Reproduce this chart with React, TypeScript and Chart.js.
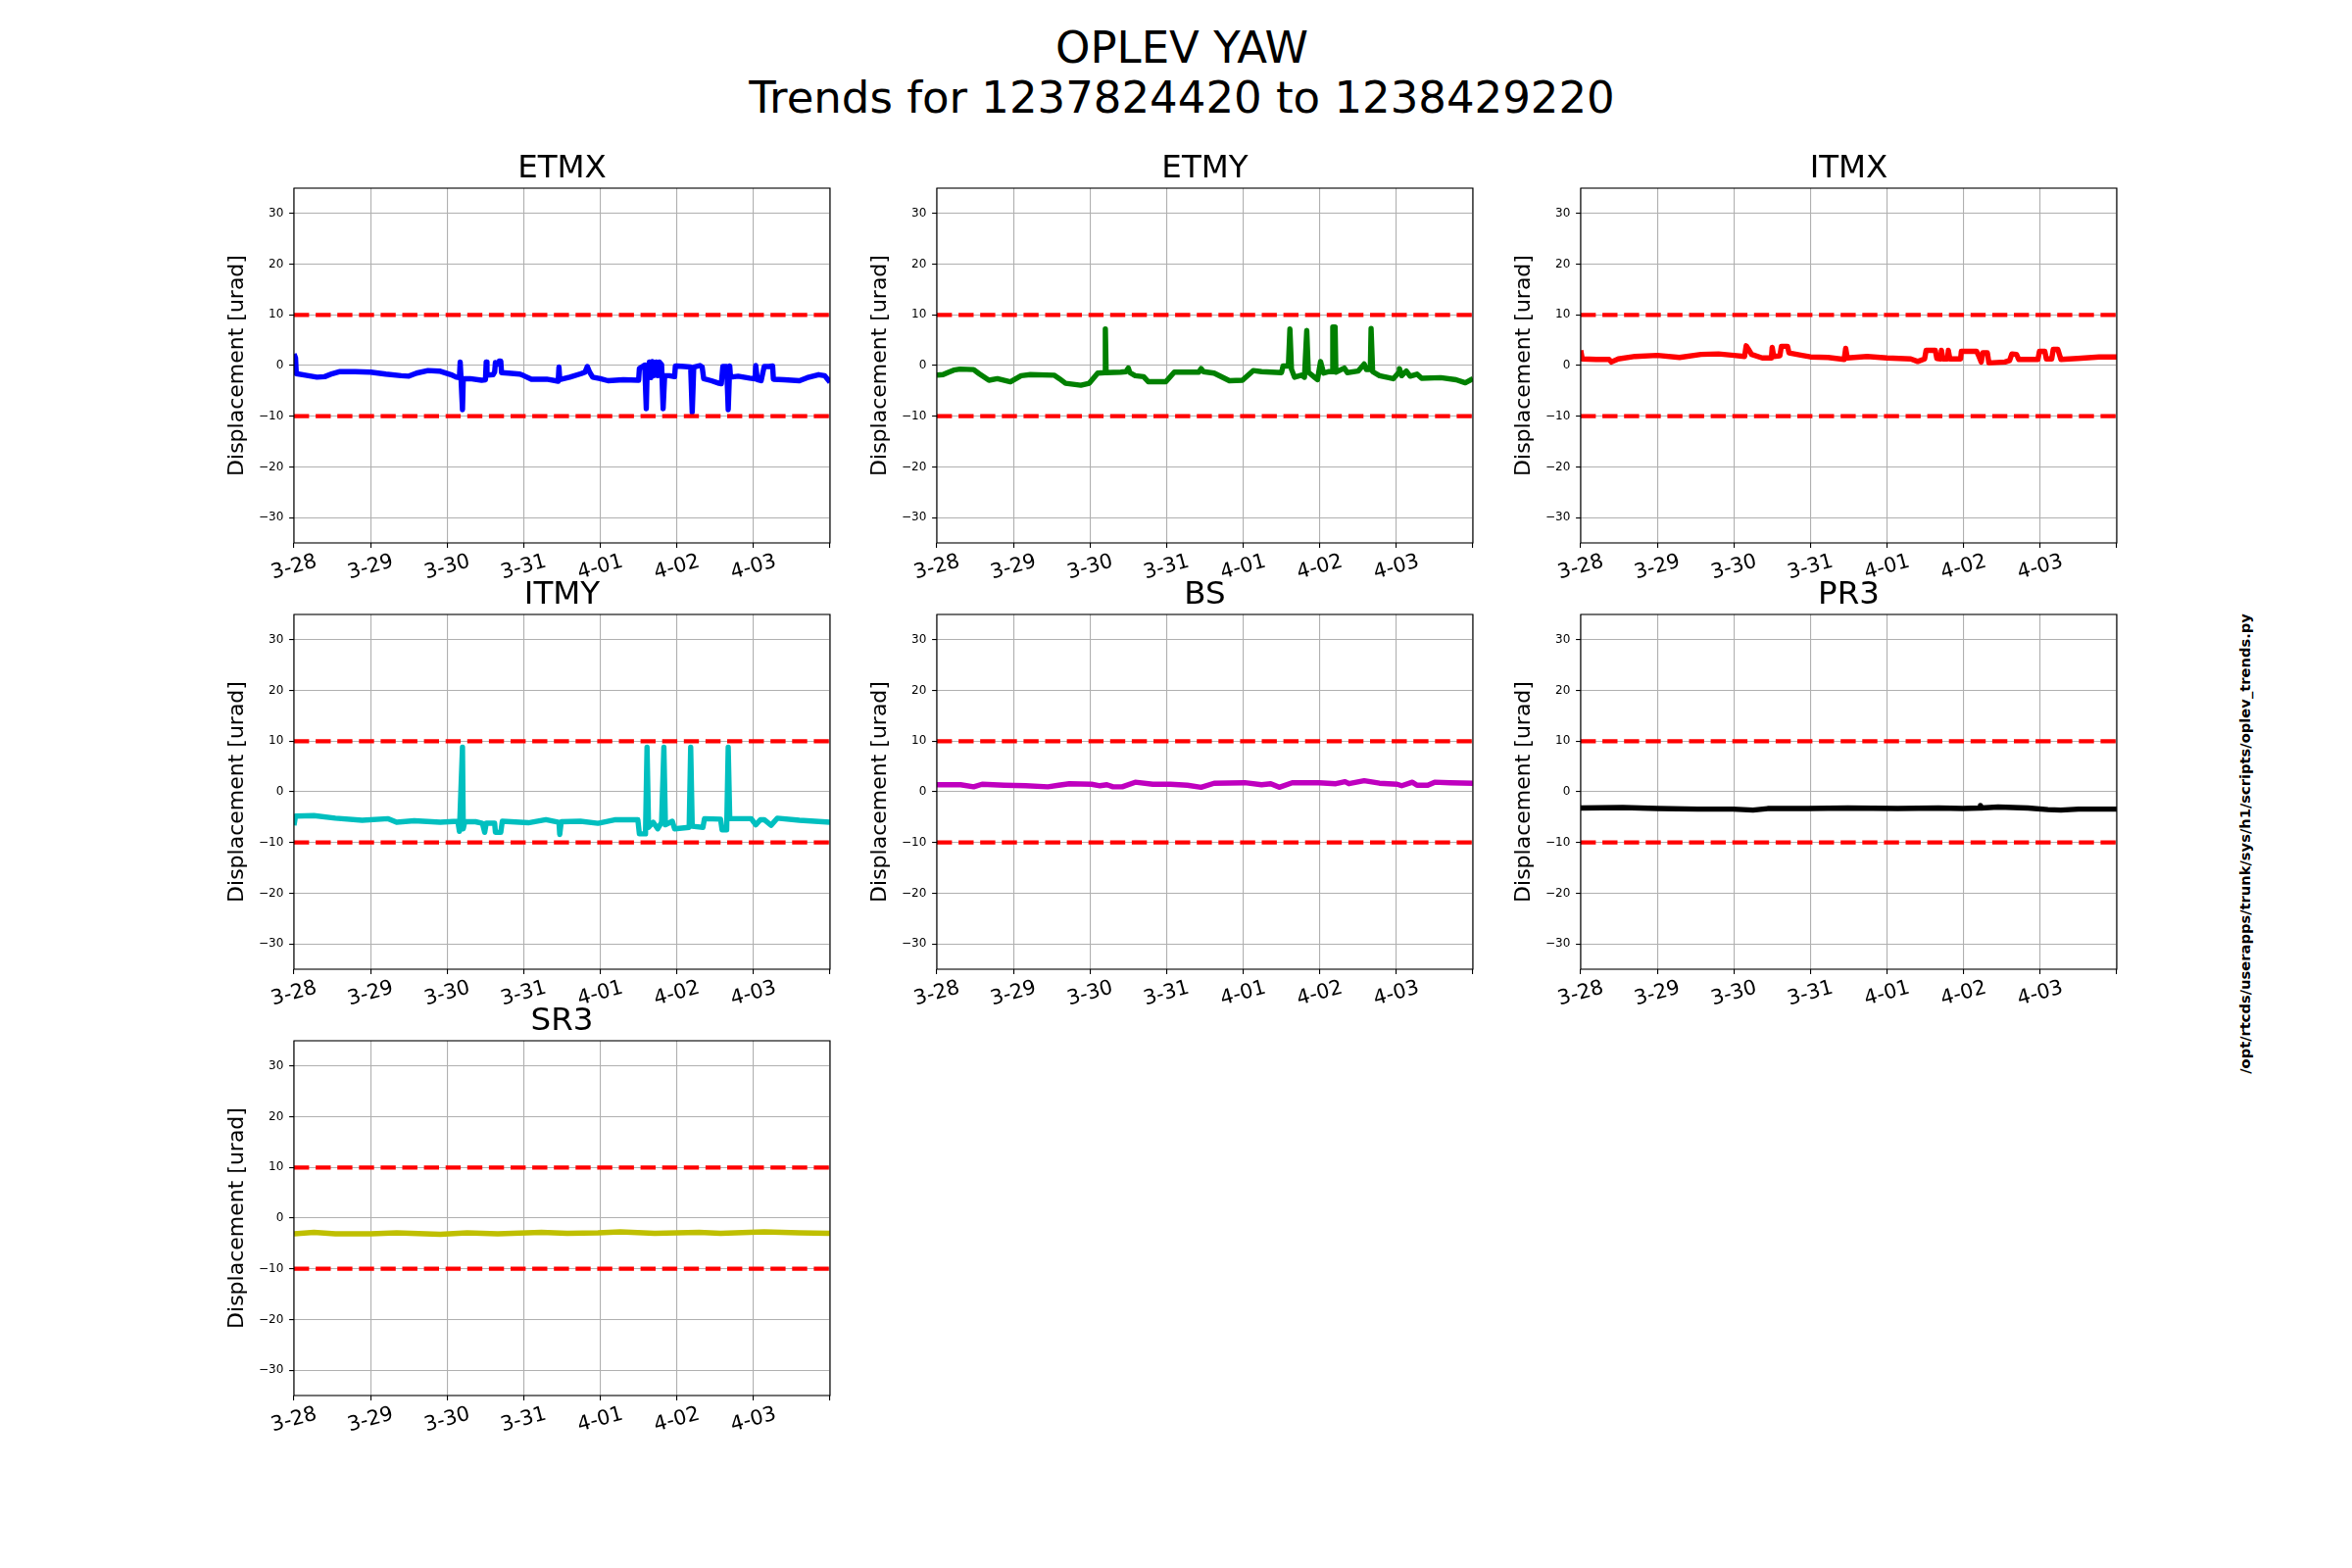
import React, { useEffect, useRef } from 'react';
import { Chart, registerables } from 'chart.js';

Chart.register(...registerables);

// ---------------- data ----------------
const X_TICKS = [0, 1, 2, 3, 4, 5, 6, 7];
const X_LABELS = ['3-28', '3-29', '3-30', '3-31', '4-01', '4-02', '4-03', ''];
const Y_TICKS = [-30, -20, -10, 0, 10, 20, 30];
const LIMIT_HIGH = 10;
const LIMIT_LOW = -10;
const SUPTITLE = ['OPLEV YAW', 'Trends for 1237824420 to 1238429220'];
const SIDE_TEXT = '/opt/rtcds/userapps/trunk/sys/h1/scripts/oplev_trends.py';
const Y_LABEL = 'Displacement [urad]';

const ETMX_T = [0, 0.02, 0.03, 0.15, 0.3, 0.4, 0.5, 0.6, 0.8, 1.0, 1.2, 1.4, 1.5, 1.6, 1.75, 1.9, 2.05, 2.12, 2.16, 2.17, 2.18, 2.2, 2.21, 2.3, 2.45, 2.5, 2.51, 2.52, 2.6, 2.62, 2.63, 2.66, 2.68, 2.7, 2.71, 2.8, 2.95, 3.0, 3.1, 3.3, 3.45, 3.46, 3.47, 3.6, 3.75, 3.8, 3.83, 3.86, 3.9, 4.0, 4.1, 4.3, 4.5, 4.51, 4.55, 4.58, 4.6, 4.61, 4.64, 4.66, 4.68, 4.7, 4.73, 4.75, 4.77, 4.8, 4.82, 4.84, 4.9, 4.97, 4.98, 5.0, 5.1, 5.18, 5.2, 5.22, 5.3, 5.33, 5.35, 5.45, 5.55, 5.58, 5.6, 5.65, 5.67, 5.69, 5.7, 5.8, 5.95, 6.02, 6.03, 6.05, 6.1, 6.14, 6.2, 6.25, 6.26, 6.4, 6.6, 6.7, 6.85, 6.93, 7.0];
const ETMX_V = [2.3, 1.5, -1.6, -1.9, -2.3, -2.2, -1.6, -1.2, -1.2, -1.3, -1.7, -2.0, -2.1, -1.5, -1.0, -1.1, -1.8, -2.3, -2.4, 0.7, -2.2, -8.7, -2.6, -2.6, -2.9, -2.8, 0.7, -1.9, -1.8, -1.3, 0.6, 0.3, 0.9, 0.9, -1.4, -1.5, -1.7, -2.0, -2.7, -2.7, -3.1, -0.3, -2.8, -2.3, -1.6, -1.3, -0.2, -1.3, -2.3, -2.6, -3.0, -2.8, -2.9, -0.6, -0.2, 0.1, -8.5, -2.0, 0.7, -2.4, 0.8, -2.0, 0.7, -2.0, 0.7, 0.2, -8.5, -2.0, -2.0, -2.2, -0.1, -0.1, -0.2, -0.3, -9.2, -0.3, 0.0, -0.3, -2.6, -3.0, -3.5, -3.6, -0.2, -0.2, -8.7, -0.1, -2.3, -2.1, -2.5, -2.6, 0.0, -2.8, -3.0, -0.2, -0.2, -0.1, -2.7, -2.8, -3.0, -2.4, -1.8, -2.0, -3.3];

const ETMY_T = [0, 0.08, 0.14, 0.22, 0.3, 0.48, 0.55, 0.68, 0.79, 0.96, 1.1, 1.22, 1.53, 1.6, 1.68, 1.88, 1.99, 2.1, 2.19, 2.2, 2.21, 2.4, 2.47, 2.5, 2.52, 2.59, 2.7, 2.76, 2.99, 3.1, 3.42, 3.45, 3.48, 3.62, 3.82, 3.99, 4.13, 4.24, 4.5, 4.52, 4.59, 4.61, 4.63, 4.67, 4.76, 4.8, 4.83, 4.85, 4.93, 4.97, 5.01, 5.05, 5.12, 5.16, 5.17, 5.2, 5.21, 5.32, 5.36, 5.5, 5.58, 5.61, 5.66, 5.67, 5.69, 5.78, 5.96, 6.03, 6.04, 6.07, 6.13, 6.18, 6.27, 6.33, 6.58, 6.78, 6.9, 7.0];
const ETMY_V = [-1.9, -1.8, -1.4, -0.9, -0.7, -0.8, -1.6, -2.9, -2.6, -3.2, -2.0, -1.8, -1.9, -2.6, -3.5, -3.9, -3.5, -1.5, -1.4, 7.2, -1.4, -1.3, -1.2, -0.5, -1.4, -2.0, -2.2, -3.2, -3.2, -1.3, -1.3, -0.6, -1.2, -1.5, -3.0, -2.9, -1.0, -1.2, -1.4, -0.1, -0.1, 7.2, -0.7, -2.3, -1.9, -2.3, 6.9, -1.3, -2.3, -2.8, 0.8, -1.5, -1.2, -1.2, 7.6, 7.6, -1.3, -0.5, -1.4, -1.1, 0.3, -0.8, -0.8, 7.3, -1.2, -2.0, -2.6, -1.4, -0.6, -2.0, -1.1, -2.1, -1.7, -2.5, -2.4, -2.8, -3.4, -2.6];

const ITMX_T = [0, 0.02, 0.2, 0.37, 0.4, 0.49, 0.71, 1.0, 1.29, 1.57, 1.8, 2.0, 2.14, 2.16, 2.2, 2.23, 2.37, 2.49, 2.5, 2.52, 2.6, 2.62, 2.7, 2.72, 2.89, 3.0, 3.23, 3.44, 3.46, 3.48, 3.74, 4.0, 4.31, 4.4, 4.49, 4.51, 4.63, 4.65, 4.7, 4.71, 4.73, 4.79, 4.8, 4.82, 4.96, 4.97, 5.17, 5.2, 5.23, 5.25, 5.31, 5.33, 5.54, 5.6, 5.63, 5.69, 5.72, 5.97, 5.99, 6.06, 6.08, 6.15, 6.17, 6.23, 6.27, 6.49, 6.77, 7.0];
const ITMX_V = [3.0, 1.3, 1.2, 1.2, 0.7, 1.3, 1.8, 2.0, 1.6, 2.2, 2.3, 2.0, 1.8, 3.9, 3.0, 2.2, 1.5, 1.5, 3.6, 1.8, 1.9, 3.8, 3.8, 2.5, 2.0, 1.7, 1.6, 1.2, 3.4, 1.5, 1.8, 1.5, 1.3, 0.8, 1.3, 3.0, 3.0, 1.4, 1.3, 3.0, 1.3, 1.3, 3.0, 1.3, 1.3, 2.8, 2.8, 1.8, 0.7, 2.5, 2.5, 0.5, 0.7, 1.0, 2.3, 2.2, 1.2, 1.2, 2.8, 2.8, 1.3, 1.3, 3.2, 3.2, 1.2, 1.4, 1.7, 1.7];

const ITMY_T = [0, 0.02, 0.26, 0.54, 0.89, 1.23, 1.34, 1.57, 1.91, 2.14, 2.16, 2.2, 2.21, 2.23, 2.37, 2.46, 2.49, 2.51, 2.62, 2.63, 2.7, 2.72, 3.06, 3.29, 3.46, 3.47, 3.49, 3.74, 3.97, 4.2, 4.49, 4.51, 4.59, 4.61, 4.63, 4.69, 4.75, 4.8, 4.83, 4.85, 4.94, 4.97, 5.16, 5.18, 5.2, 5.34, 5.36, 5.57, 5.59, 5.65, 5.67, 5.69, 5.97, 6.03, 6.09, 6.14, 6.23, 6.31, 6.6, 7.0];
const ITMY_V = [-6.6, -4.8, -4.7, -5.2, -5.6, -5.3, -6.0, -5.7, -6.0, -5.8, -7.8, 8.8, -7.3, -5.9, -5.9, -6.2, -8.0, -6.2, -6.2, -8.0, -8.0, -5.8, -6.1, -5.5, -6.0, -8.4, -5.9, -5.8, -6.2, -5.5, -5.5, -8.3, -8.3, 8.8, -7.0, -6.0, -7.3, -6.0, 8.8, -6.5, -5.8, -7.3, -7.0, 8.8, -6.8, -7.0, -5.3, -5.4, -7.5, -7.5, 8.8, -5.3, -5.3, -6.5, -5.5, -5.5, -6.6, -5.2, -5.6, -6.0];

const BS_T = [0, 0.31, 0.48, 0.59, 0.88, 1.16, 1.45, 1.59, 1.73, 2.02, 2.13, 2.22, 2.3, 2.42, 2.59, 2.82, 3.05, 3.27, 3.45, 3.62, 4.02, 4.24, 4.36, 4.47, 4.64, 4.99, 5.21, 5.33, 5.38, 5.58, 5.78, 6.01, 6.07, 6.21, 6.27, 6.41, 6.5, 6.7, 7.0];
const BS_V = [1.4, 1.4, 1.0, 1.5, 1.3, 1.2, 1.0, 1.3, 1.6, 1.5, 1.2, 1.4, 1.0, 1.0, 1.9, 1.5, 1.5, 1.3, 0.9, 1.7, 1.8, 1.4, 1.6, 0.9, 1.8, 1.8, 1.6, 2.0, 1.6, 2.2, 1.7, 1.5, 1.2, 1.9, 1.3, 1.3, 1.9, 1.8, 1.7];

const PR3_T = [0, 0.55, 1.0, 1.53, 1.99, 2.25, 2.44, 2.97, 3.49, 4.14, 4.67, 4.99, 5.21, 5.22, 5.23, 5.45, 5.84, 6.1, 6.27, 6.5, 7.0];
const PR3_V = [-3.2, -3.1, -3.3, -3.4, -3.4, -3.6, -3.3, -3.3, -3.2, -3.3, -3.2, -3.3, -3.2, -2.7, -3.2, -3.0, -3.2, -3.5, -3.6, -3.4, -3.4];

const SR3_T = [0, 0.26, 0.54, 1.0, 1.34, 1.91, 2.26, 2.66, 3.23, 3.57, 3.97, 4.26, 4.71, 5.29, 5.57, 6.14, 6.6, 7.0];
const SR3_V = [-3.1, -2.8, -3.1, -3.1, -2.9, -3.2, -2.9, -3.1, -2.8, -3.0, -2.9, -2.7, -3.0, -2.8, -3.0, -2.7, -2.9, -3.0];

type Panel = { name: string; t: number[]; v: number[]; color: string; col: number; row: number };

const PANELS: Panel[] = [
  { name: 'ETMX', t: ETMX_T, v: ETMX_V, color: '#0000ff', col: 0, row: 0 },
  { name: 'ETMY', t: ETMY_T, v: ETMY_V, color: '#008000', col: 1, row: 0 },
  { name: 'ITMX', t: ITMX_T, v: ITMX_V, color: '#ff0000', col: 2, row: 0 },
  { name: 'ITMY', t: ITMY_T, v: ITMY_V, color: '#00bfbf', col: 0, row: 1 },
  { name: 'BS', t: BS_T, v: BS_V, color: '#bf00bf', col: 1, row: 1 },
  { name: 'PR3', t: PR3_T, v: PR3_V, color: '#000000', col: 2, row: 1 },
  { name: 'SR3', t: SR3_T, v: SR3_V, color: '#bfbf00', col: 0, row: 2 },
];

// ---------------- layout ----------------
const FONT = "'DejaVu Sans', sans-serif";
const PLOT_W = 547.06;
const PLOT_H = 362.35;
const COL_LEFT = [300, 956.47, 1612.94];
const ROW_TOP = [192, 626.82, 1061.65];
const SIDE_W = 80;
const TITLE_SIZE = 32.5;
const TITLE_H = TITLE_SIZE * 1.2;
const XAXIS_H = 60;
const CANVAS_W = Math.round(SIDE_W * 2 + PLOT_W);
const CANVAS_H = Math.round(TITLE_H + PLOT_H + XAXIS_H);

Chart.defaults.font.family = FONT;
Chart.defaults.color = '#000';

const framePlugin = {
  id: 'axesFrame',
  afterDatasetsDraw(chart: any) {
    const { ctx, chartArea: a } = chart;
    ctx.save();
    ctx.strokeStyle = '#000';
    ctx.lineWidth = 1.1;
    ctx.strokeRect(a.left, a.top, a.right - a.left, a.bottom - a.top);
    ctx.restore();
  },
};

const gridOpts = {
  color: '#b0b0b0',
  lineWidth: 1.1,
  tickColor: '#000',
  tickWidth: 1.1,
  tickLength: 4.9,
  drawTicks: true,
};

function fmtY(v: number) {
  return v < 0 ? '\u2212' + Math.abs(v) : String(v);
}

function PanelChart({ p }: { p: Panel }) {
  const ref = useRef<HTMLCanvasElement | null>(null);
  useEffect(() => {
    if (!ref.current) return;
    const pts = p.t.map((x, i) => ({ x, y: p.v[i] }));
    const limitStyle = {
      borderColor: '#ff0000',
      borderWidth: 4.2,
      borderDash: [15.4, 6.7],
      borderCapStyle: 'butt',
      pointRadius: 0,
      clip: 0,
    };
    const chart = new Chart(ref.current, {
      type: 'line',
      data: {
        datasets: [
          { data: [{ x: 0, y: LIMIT_HIGH }, { x: 7, y: LIMIT_HIGH }], ...limitStyle },
          { data: [{ x: 0, y: LIMIT_LOW }, { x: 7, y: LIMIT_LOW }], ...limitStyle },
          {
            data: pts,
            borderColor: p.color,
            borderWidth: 5.4,
            pointRadius: 0,
            tension: 0,
            borderJoinStyle: 'round',
            fill: false,
            clip: 0,
          },
        ],
      } as any,
      options: {
        animation: false,
        responsive: false,
        events: [],
        layout: { padding: 0 },
        plugins: {
          legend: { display: false },
          tooltip: { enabled: false },
          title: {
            display: true,
            text: p.name,
            color: '#000',
            font: { size: TITLE_SIZE, weight: 'normal', family: FONT },
            padding: { top: 0, bottom: 0 },
          },
        },
        scales: {
          x: {
            type: 'linear',
            position: 'bottom',
            min: 0,
            max: 7,
            afterBuildTicks: (s: any) => {
              s.ticks = X_TICKS.map((value) => ({ value }));
            },
            afterFit: (s: any) => {
              s.height = XAXIS_H;
            },
            grid: gridOpts,
            border: { display: false },
            ticks: {
              autoSkip: false,
              minRotation: 15,
              maxRotation: 15,
              labelOffset: 22.8,
              padding: 2,
              color: '#000',
              font: { size: 20.8, family: FONT },
              callback: (_v: any, i: number) => X_LABELS[i] ?? '',
            },
          },
          y: {
            type: 'linear',
            position: 'left',
            min: -35,
            max: 35,
            afterBuildTicks: (s: any) => {
              s.ticks = Y_TICKS.map((value) => ({ value }));
            },
            afterFit: (s: any) => {
              s.width = SIDE_W;
            },
            grid: gridOpts,
            border: { display: false },
            ticks: {
              padding: 5.8,
              color: '#000',
              font: { size: 12, family: FONT },
              callback: (v: any) => fmtY(Number(v)),
            },
            title: {
              display: true,
              text: Y_LABEL,
              color: '#000',
              font: { size: 22, family: FONT },
              padding: { top: 8.8, bottom: 0 },
            },
          },
          yR: {
            type: 'linear',
            position: 'right',
            display: true,
            grid: { display: false, drawTicks: false },
            border: { display: false },
            ticks: { display: false },
            afterFit: (s: any) => {
              s.width = SIDE_W;
            },
          },
        },
      } as any,
      plugins: [framePlugin],
    });
    return () => chart.destroy();
  }, [p]);

  const left = Math.round(COL_LEFT[p.col] - SIDE_W);
  const top = Math.round(ROW_TOP[p.row] - TITLE_H);
  return (
    <canvas
      ref={ref}
      width={CANVAS_W}
      height={CANVAS_H}
      style={{ position: 'absolute', left, top, width: CANVAS_W, height: CANVAS_H }}
    />
  );
}

export default function App() {
  return (
    <div
      style={{
        position: 'absolute',
        left: 0,
        top: 0,
        width: 2400,
        height: 1600,
        background: '#fff',
        overflow: 'hidden',
        fontFamily: FONT,
        color: '#000',
      }}
    >
      {SUPTITLE.map((line, i) => (
        <div
          key={i}
          style={{
            position: 'absolute',
            left: 6,
            top: 23 + i * 51,
            width: 2400,
            textAlign: 'center',
            fontSize: 45,
            lineHeight: '51px',
            whiteSpace: 'nowrap',
          }}
        >
          {line}
        </div>
      ))}
      {PANELS.map((p) => (
        <PanelChart key={p.name} p={p} />
      ))}
      <div
        style={{
          position: 'absolute',
          left: 2291,
          top: 861,
          transform: 'translate(-50%, -50%) rotate(-90deg)',
          whiteSpace: 'nowrap',
          fontSize: 14.7,
          fontWeight: 'bold',
          lineHeight: '18px',
        }}
      >
        {SIDE_TEXT}
      </div>
    </div>
  );
}
